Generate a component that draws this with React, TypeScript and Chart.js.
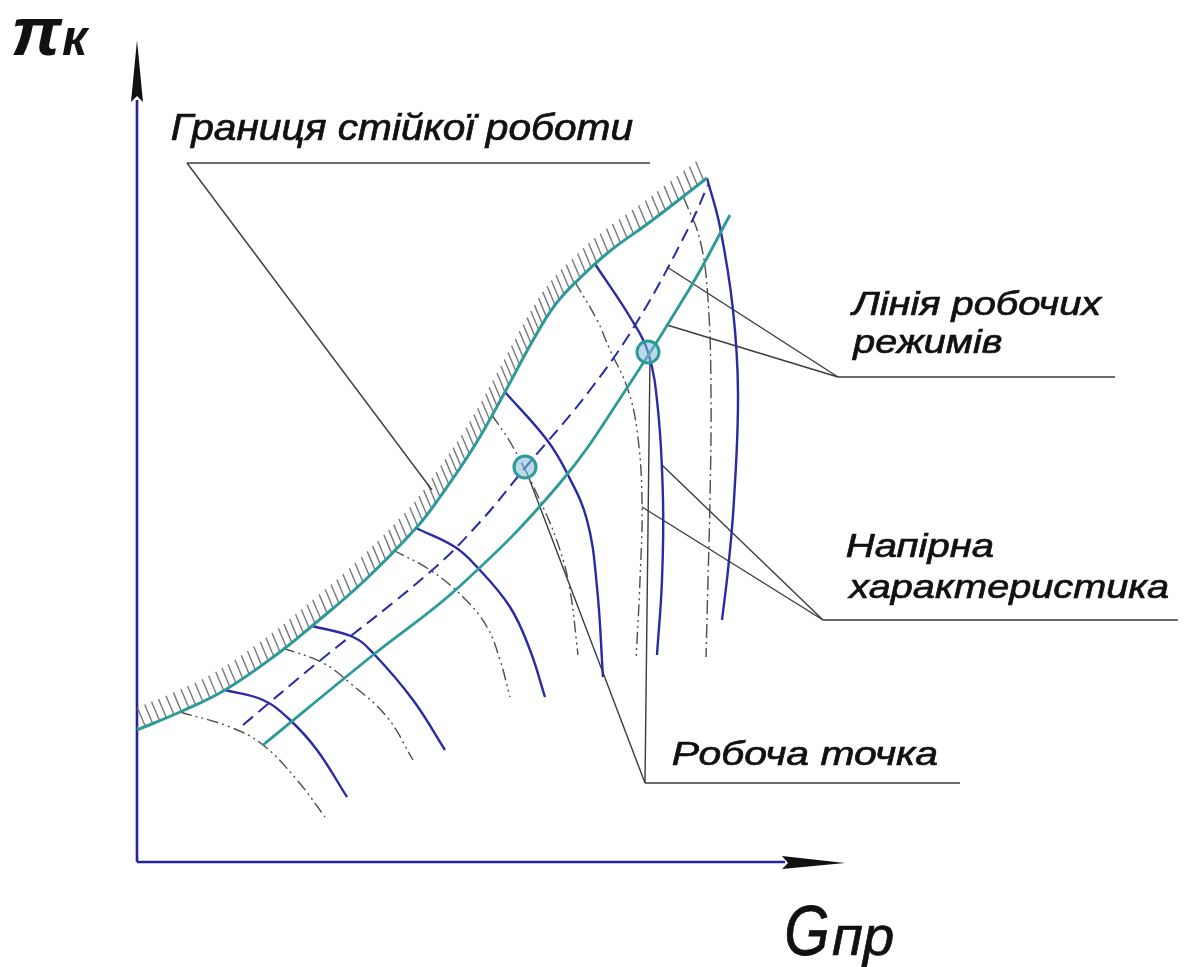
import React, { useEffect, useRef } from "react";
import { Chart, registerables } from "chart.js";

Chart.register(...registerables);

// Diagram units: origin at the corner of the axes, x grows to the right (Gпр), y grows up (πк).
const X_MIN = -137;
const X_MAX = 1047;
const Y_MIN = -105;
const Y_MAX = 862;
const AXIS_X_END = 708;
const AXIS_Y_END = 822;

// Surge (stability) boundary
const surgeX = [0, 43, 88, 143, 175, 226, 280, 303, 338, 368, 395, 418, 443, 473, 513, 570];
const surgeY = [132, 150, 172, 210, 236, 280, 335, 365, 417, 470, 520, 557, 584, 611, 640, 684];

// Line of operating modes (solid)
const modeX = [126, 236, 323, 423, 490, 553, 593];
const modeY = [117, 207, 276, 379, 474, 574, 647];

// Line of operating modes (dashed)
const modeDashX = [106, 180, 293, 343, 388, 453, 503, 553, 571];
const modeDashY = [137, 199, 290, 340, 394, 472, 545, 637, 677];

// Pressure characteristics (constant speed lines)
const speedAX = [88, 126, 153, 180, 210];
const speedAY = [172, 162, 142, 112, 65];
const speedBX = [175, 216, 236, 276, 308];
const speedBY = [236, 225, 209, 162, 112];
const speedCX = [279, 318, 340, 373, 393, 408];
const speedCY = [334, 315, 295, 255, 212, 165];
const speedDX = [368, 410, 430, 450, 460, 466];
const speedDY = [470, 422, 389, 342, 275, 185];
const speedEX = [458, 493, 511, 521, 526, 525, 520];
const speedEY = [598, 545, 510, 452, 362, 282, 207];
const speedFX = [570, 583, 596, 601, 597, 591, 585];
const speedFY = [684, 635, 552, 469, 362, 292, 242];

// Auxiliary dash-dot characteristics
const auxAX = [43, 93, 126, 160, 188];
const auxAY = [150, 135, 117, 82, 45];
const auxBX = [146, 186, 213, 250, 276];
const auxBY = [214, 199, 179, 145, 102];
const auxCX = [256, 293, 326, 350, 363, 373];
const auxCY = [312, 292, 265, 235, 202, 165];
const auxDX = [355, 376, 406, 423, 433, 441];
const auxDY = [447, 415, 355, 312, 272, 207];
const auxEX = [438, 460, 473, 490, 500, 505, 503, 499];
const auxEY = [580, 542, 512, 475, 432, 362, 282, 202];
const auxFX = [546, 563, 571, 574, 573, 571, 569];
const auxFY = [666, 622, 562, 469, 362, 282, 205];

// Operating points
const workX = [388, 511];
const workY = [395, 510];

// Leader lines: [x0, y0, x1, y1]
const leaderLines: number[][] = [
  [50, 699, 295, 372],
  [50, 699, 513, 699],
  [530, 595, 701, 485],
  [530, 537, 701, 485],
  [701, 485, 978, 485],
  [525, 397, 686, 242],
  [505, 355, 686, 242],
  [686, 242, 1041, 242],
  [513, 505, 508, 79],
  [390, 389, 508, 79],
  [508, 79, 823, 79],
];

// Text: [text, x, y (baseline), ink width, font size, ascent (0 = natural), bold]
const labels: [string, number, number, number, number, number, boolean][] = [
  ["Границя стійкої роботи", 35, 722, 461, 36, 0, false],
  ["Лінія робочих", 713, 547, 253, 33, 0, false],
  ["режимів", 715, 509, 150, 33, 0, false],
  ["Напірна", 710, 305, 146, 34, 0, false],
  ["характеристика", 710, 264, 321, 34, 0, false],
  ["Робоча точка", 536, 97, 264, 34, 0, false],
  ["π", -124, 807, 50, 70, 36, true],
  ["к", -75, 807, 28, 50, 27, true],
  ["G", 650, -93, 41, 64, 50, false],
  ["пр", 695, -93, 61, 56, 30, false],
];

const BLUE = "#2a2aa6";
const TEAL = "#2b9a98";
const GREY = "#4d4d4d";
const LEADER = "#3c3c3c";
const FONT = '"Liberation Sans", Arial, sans-serif';

const pts = (xs: number[], ys: number[]) => xs.map((x, i) => ({ x, y: ys[i] }));

function curve(xs: number[], ys: number[], color: string, width: number, dash: number[], order: number) {
  return {
    data: pts(xs, ys),
    showLine: true,
    borderColor: color,
    borderWidth: width,
    borderDash: dash,
    pointRadius: 0,
    tension: 0.4,
    fill: false,
    order,
  };
}

// Hatching along the upper-left side of the surge boundary
const hatchPlugin = {
  id: "surgeHatch",
  beforeDatasetsDraw(chart: any) {
    const meta = chart.getDatasetMeta(1);
    const els = meta.data;
    if (!els || els.length < 2) return;
    const ctx = chart.ctx;
    const axisPx = chart.scales.x.getPixelForValue(0);
    const samples: { x: number; y: number }[] = [];
    for (let i = 0; i < els.length - 1; i++) {
      const a = els[i];
      const b = els[i + 1];
      const c1x = a.cp2x ?? a.x, c1y = a.cp2y ?? a.y;
      const c2x = b.cp1x ?? b.x, c2y = b.cp1y ?? b.y;
      for (let k = 0; k < 40; k++) {
        const t = k / 40;
        const u = 1 - t;
        samples.push({
          x: u * u * u * a.x + 3 * u * u * t * c1x + 3 * u * t * t * c2x + t * t * t * b.x,
          y: u * u * u * a.y + 3 * u * u * t * c1y + 3 * u * t * t * c2y + t * t * t * b.y,
        });
      }
    }
    samples.push({ x: els[els.length - 1].x, y: els[els.length - 1].y });
    ctx.save();
    ctx.beginPath();
    ctx.rect(axisPx, 0, chart.width, chart.height);
    ctx.clip();
    ctx.strokeStyle = "#7a7a7a";
    ctx.lineWidth = 1.4;
    ctx.beginPath();
    let acc = 0;
    const step = 7;
    for (let i = 1; i < samples.length; i++) {
      const p = samples[i - 1];
      const q = samples[i];
      const d = Math.hypot(q.x - p.x, q.y - p.y);
      acc += d;
      if (acc >= step || i === 1) {
        acc = 0;
        ctx.moveTo(q.x, q.y);
        ctx.lineTo(q.x - 8, q.y - 19);
      }
    }
    ctx.stroke();
    ctx.restore();
  },
};

// Axes with arrowheads
const axesPlugin = {
  id: "diagramAxes",
  beforeDatasetsDraw(chart: any) {
    const { x, y } = chart.scales;
    const ctx = chart.ctx;
    const ox = x.getPixelForValue(0);
    const oy = y.getPixelForValue(0);
    const tipX = x.getPixelForValue(AXIS_X_END);
    const tipY = y.getPixelForValue(AXIS_Y_END);
    ctx.save();
    ctx.strokeStyle = "#2424a0";
    ctx.lineWidth = 2.6;
    ctx.beginPath();
    ctx.moveTo(ox, oy);
    ctx.lineTo(ox, tipY + 60);
    ctx.moveTo(ox, oy);
    ctx.lineTo(tipX - 60, oy);
    ctx.stroke();
    ctx.fillStyle = "#111";
    ctx.beginPath();
    ctx.moveTo(ox, tipY);
    ctx.lineTo(ox - 6, tipY + 62);
    ctx.lineTo(ox, tipY + 56);
    ctx.lineTo(ox + 6, tipY + 62);
    ctx.closePath();
    ctx.fill();
    ctx.beginPath();
    ctx.moveTo(tipX, oy + 1);
    ctx.lineTo(tipX - 63, oy - 6);
    ctx.lineTo(tipX - 57, oy + 1);
    ctx.lineTo(tipX - 63, oy + 7);
    ctx.closePath();
    ctx.fill();
    ctx.restore();
  },
};

// Captions
const textPlugin = {
  id: "diagramText",
  afterDatasetsDraw(chart: any) {
    const { x, y } = chart.scales;
    const ctx = chart.ctx;
    ctx.save();
    ctx.fillStyle = "#111";
    ctx.strokeStyle = "#111";
    ctx.textAlign = "left";
    ctx.textBaseline = "alphabetic";
    for (const [text, lx, ly, w, size, ascent, bold] of labels) {
      ctx.font = `italic ${bold ? "bold " : ""}${size}px ${FONT}`;
      const m = ctx.measureText(text);
      const ink = m.actualBoundingBoxLeft + m.actualBoundingBoxRight;
      const sx = w / ink;
      const sy = ascent > 0 ? ascent / m.actualBoundingBoxAscent : 1;
      ctx.save();
      ctx.translate(x.getPixelForValue(lx), y.getPixelForValue(ly));
      ctx.scale(sx, sy);
      ctx.fillText(text, m.actualBoundingBoxLeft, 0);
      if (!bold) {
        ctx.lineWidth = 0.7;
        ctx.strokeText(text, m.actualBoundingBoxLeft, 0);
      }
      ctx.restore();
    }
    ctx.restore();
  },
};

const whiteBg = {
  id: "whiteBg",
  beforeDraw(chart: any) {
    const ctx = chart.ctx;
    ctx.save();
    ctx.fillStyle = "#ffffff";
    ctx.fillRect(0, 0, chart.width, chart.height);
    ctx.restore();
  },
};

export default function App() {
  const ref = useRef<HTMLCanvasElement | null>(null);

  useEffect(() => {
    if (!ref.current) return;
    const datasets: any[] = [
      {
        data: pts(workX, workY),
        showLine: false,
        pointRadius: 11,
        pointBorderWidth: 3,
        pointBorderColor: TEAL,
        pointBackgroundColor: "rgba(130,185,215,0.55)",
        order: 0,
      },
      curve(surgeX, surgeY, TEAL, 3, [], 1),
      curve(modeX, modeY, TEAL, 2.8, [], 2),
      curve(modeDashX, modeDashY, BLUE, 2, [13, 7], 3),
      curve(speedAX, speedAY, BLUE, 2.4, [], 4),
      curve(speedBX, speedBY, BLUE, 2.4, [], 4),
      curve(speedCX, speedCY, BLUE, 2.4, [], 4),
      curve(speedDX, speedDY, BLUE, 2.4, [], 4),
      curve(speedEX, speedEY, BLUE, 2.4, [], 4),
      curve(speedFX, speedFY, BLUE, 2.4, [], 4),
      curve(auxAX, auxAY, GREY, 1.4, [12, 4, 2, 4, 2, 4], 5),
      curve(auxBX, auxBY, GREY, 1.4, [12, 4, 2, 4, 2, 4], 5),
      curve(auxCX, auxCY, GREY, 1.4, [12, 4, 2, 4, 2, 4], 5),
      curve(auxDX, auxDY, GREY, 1.4, [12, 4, 2, 4, 2, 4], 5),
      curve(auxEX, auxEY, GREY, 1.4, [12, 4, 2, 4, 2, 4], 5),
      curve(auxFX, auxFY, GREY, 1.4, [14, 4, 2, 4], 5),
      ...leaderLines.map((l) => ({
        data: [
          { x: l[0], y: l[1] },
          { x: l[2], y: l[3] },
        ],
        showLine: true,
        borderColor: LEADER,
        borderWidth: 1.4,
        pointRadius: 0,
        tension: 0,
        order: 6,
      })),
    ];

    const chart = new Chart(ref.current, {
      type: "scatter",
      data: { datasets },
      options: {
        animation: false,
        responsive: false,
        maintainAspectRatio: false,
        devicePixelRatio: 1,
        events: [],
        layout: { padding: 0, autoPadding: false },
        scales: {
          x: { type: "linear", min: X_MIN, max: X_MAX, display: false },
          y: { type: "linear", min: Y_MIN, max: Y_MAX, display: false },
        },
        plugins: {
          legend: { display: false },
          tooltip: { enabled: false },
        },
      },
      plugins: [whiteBg, axesPlugin, hatchPlugin, textPlugin],
    } as any);

    return () => chart.destroy();
  }, []);

  return (
    <div style={{ position: "absolute", left: 0, top: 0, width: 1184, height: 967, background: "#fff" }}>
      <canvas ref={ref} width={1184} height={967} style={{ display: "block", width: 1184, height: 967 }} />
    </div>
  );
}
